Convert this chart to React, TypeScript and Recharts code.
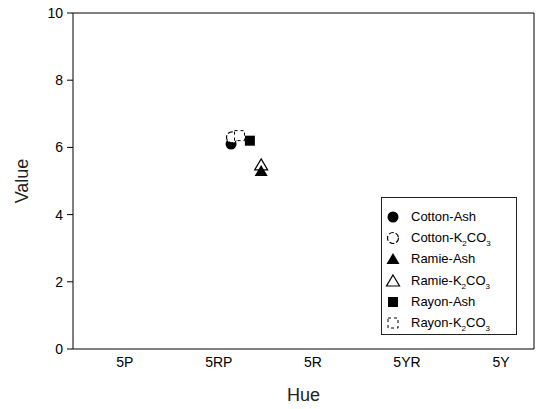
import React from "react";
import { ScatterChart, Scatter, XAxis, YAxis, ReferenceLine } from "recharts";

const hueTicks = [1, 2, 3, 4, 5];
const hueLabels = ["5P", "5RP", "5R", "5YR", "5Y"];
const valueTicks = [0, 2, 4, 6, 8, 10];

const cottonAsh = [{ hue: 2.13, value: 6.1 }];
const cottonK2CO3 = [{ hue: 2.14, value: 6.3 }];
const ramieAsh = [{ hue: 2.45, value: 5.3 }];
const ramieK2CO3 = [{ hue: 2.45, value: 5.48 }];
const rayonAsh = [{ hue: 2.33, value: 6.2 }];
const rayonK2CO3 = [{ hue: 2.22, value: 6.35 }];

const FONT = "'Liberation Sans', Arial, sans-serif";

type Kind = "circle" | "openCircle" | "triangle" | "openTriangle" | "square" | "openSquare";

function Marker({ kind, cx, cy }: { kind: Kind; cx: number; cy: number }) {
  switch (kind) {
    case "circle":
      return <circle cx={cx} cy={cy} r={5.5} fill="#000" />;
    case "openCircle":
      return <circle cx={cx} cy={cy} r={5.5} fill="#fff" stroke="#000" strokeWidth={1.2} strokeDasharray="5 2" />;
    case "triangle":
      return <path d={`M${cx},${cy - 6} L${cx + 6.5},${cy + 5} L${cx - 6.5},${cy + 5} Z`} fill="#000" />;
    case "openTriangle":
      return <path d={`M${cx},${cy - 6} L${cx + 6.5},${cy + 5} L${cx - 6.5},${cy + 5} Z`} fill="#fff" stroke="#000" strokeWidth={1.2} />;
    case "square":
      return <rect x={cx - 5} y={cy - 5} width={10} height={10} fill="#000" />;
    case "openSquare":
      return <rect x={cx - 5} y={cy - 5} width={10} height={10} fill="#fff" stroke="#000" strokeWidth={1} strokeDasharray="3 3" />;
  }
  return null;
}

const shape = (kind: Kind) => (props: any) => <Marker kind={kind} cx={props.cx} cy={props.cy} />;

const legendItems: { kind: Kind; name: string; sub: boolean }[] = [
  { kind: "circle", name: "Cotton-Ash", sub: false },
  { kind: "openCircle", name: "Cotton-K", sub: true },
  { kind: "triangle", name: "Ramie-Ash", sub: false },
  { kind: "openTriangle", name: "Ramie-K", sub: true },
  { kind: "square", name: "Rayon-Ash", sub: false },
  { kind: "openSquare", name: "Rayon-K", sub: true },
];

function LegendBox() {
  return (
    <div
      style={{
        position: "absolute",
        left: 381,
        top: 197,
        width: 136,
        height: 138,
        border: "1px solid #222",
        boxSizing: "border-box",
        background: "#fff",
        fontFamily: FONT,
        fontSize: 13,
        paddingTop: 8,
      }}
    >
      {legendItems.map((it) => (
        <div key={it.kind} style={{ display: "flex", alignItems: "center", height: 21.3 }}>
          <svg width={20} height={16} style={{ marginLeft: 1 }}>
            <Marker kind={it.kind} cx={10} cy={8} />
          </svg>
          <span style={{ marginLeft: 8, color: "#000", lineHeight: "14px" }}>
            {it.name}
            {it.sub ? (
              <>
                <sub style={{ fontSize: 8, lineHeight: 0 }}>2</sub>CO<sub style={{ fontSize: 8, lineHeight: 0 }}>3</sub>
              </>
            ) : null}
          </span>
        </div>
      ))}
    </div>
  );
}

const ValueLabel = (props: any) => {
  const vb = props.viewBox || {};
  const cy = vb.y + vb.height / 2;
  return (
    <text
      x={22}
      y={cy}
      transform={`rotate(-90, 22, ${cy})`}
      textAnchor="middle"
      dominantBaseline="central"
      fill="#222"
      fontSize={18}
      fontFamily={FONT}
    >
      Value
    </text>
  );
};

export default function App() {
  return (
    <div style={{ position: "relative", width: 540, height: 409, background: "#fff" }}>
      <style>{`body{margin:0}`}</style>
      <ScatterChart width={540} height={409} margin={{ top: 13, right: 6, bottom: 0, left: 0 }}>
        <XAxis
          dataKey="hue"
          type="number"
          domain={[0.45, 5.35]}
          ticks={hueTicks}
          tickFormatter={(v: number) => hueLabels[hueTicks.indexOf(v)] ?? ""}
          tickLine={false}
          tickSize={6}
          tickMargin={2}
          height={60}
          stroke="#000"
          tick={{ fill: "#000", fontSize: 14, fontFamily: FONT }}
          label={{ value: "Hue", position: "insideBottom", offset: 8, fill: "#222", fontSize: 18, fontFamily: FONT }}
        />
        <YAxis
          dataKey="value"
          type="number"
          domain={[0, 10]}
          ticks={valueTicks}
          tickSize={6}
          tickMargin={4}
          width={73}
          stroke="#000"
          tick={{ fill: "#000", fontSize: 14, fontFamily: FONT }}
          label={<ValueLabel />}
        />
        <ReferenceLine y={10} stroke="#000" />
        <ReferenceLine x={5.35} stroke="#000" />
        <Scatter name="Cotton-Ash" data={cottonAsh} shape={shape("circle")} isAnimationActive={false} />
        <Scatter name="Cotton-K2CO3" data={cottonK2CO3} shape={shape("openCircle")} isAnimationActive={false} />
        <Scatter name="Ramie-K2CO3" data={ramieK2CO3} shape={shape("openTriangle")} isAnimationActive={false} />
        <Scatter name="Ramie-Ash" data={ramieAsh} shape={shape("triangle")} isAnimationActive={false} />
        <Scatter name="Rayon-Ash" data={rayonAsh} shape={shape("square")} isAnimationActive={false} />
        <Scatter name="Rayon-K2CO3" data={rayonK2CO3} shape={shape("openSquare")} isAnimationActive={false} />
      </ScatterChart>
      <LegendBox />
    </div>
  );
}
